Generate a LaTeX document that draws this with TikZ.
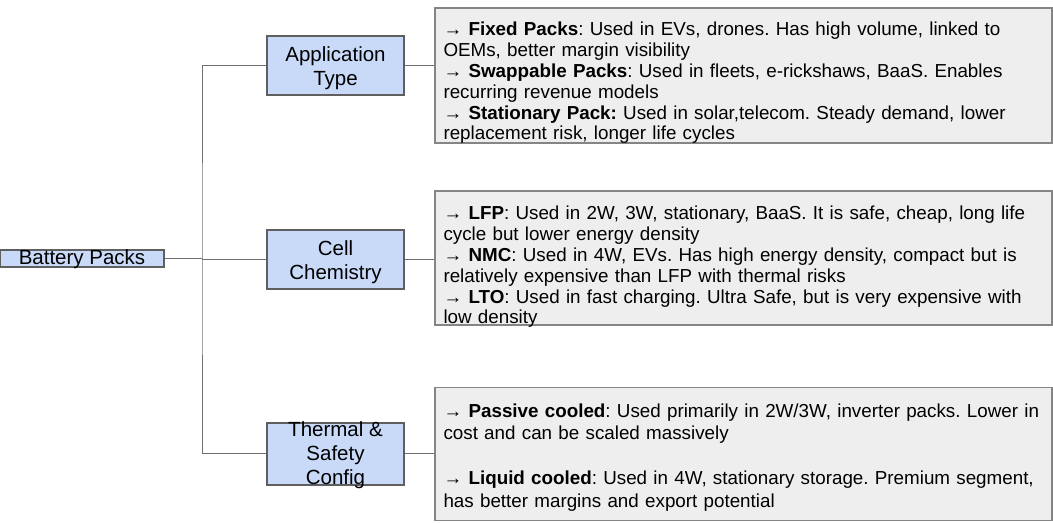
\documentclass[tikz,border=0pt]{standalone}
\usepackage{fontspec}
\setmainfont{Liberation Sans}
\usepackage{tikz}
\usetikzlibrary{positioning}
\usepackage{xcolor}
\definecolor{packblue}{HTML}{C9DAF8}
\definecolor{infogray}{HTML}{EEEEEE}
\definecolor{edgegray}{HTML}{5F5F5F}
\definecolor{boxgray}{HTML}{858585}
\definecolor{linkgray}{HTML}{707070}
\frenchspacing
\hyphenpenalty=10000

\begin{document}
\begin{tikzpicture}[x=1pt, y=1pt]
    % Define styles
    \tikzstyle{category} = [rectangle, draw=edgegray, line width=1.2pt, fill=packblue, minimum width=137pt, minimum height=59pt, inner sep=0pt, align=center, text height=50pt, text depth=9pt, font=\fontsize{20.5}{24}\selectfont]
    \tikzstyle{info} = [rectangle, draw=boxgray, line width=1.2pt, fill=infogray, text width=600pt, inner xsep=8.5pt, inner ysep=0pt, align=left, font=\fontsize{18.8}{20.8}\selectfont]
    \tikzstyle{connector} = [draw=linkgray, line width=1pt]

    \useasboundingbox (0,0) rectangle (1053,524);

    % Place nodes
    \node [category, minimum width=164pt, minimum height=17pt, text height=15pt, text depth=2pt] (battery) at (82,265.5) {Battery Packs};
    \node [category] (apptype) at (335.5,458.5) {Application\\Type};
    \node [category, below of=apptype, node distance=194pt] (cellchem) {Cell\\Chemistry};
    \node [category, below of=cellchem, node distance=194.5pt, minimum height=58pt, text height=62pt, text depth=-4pt] (thermal) {Thermal \&\\Safety\\Config};

    \node [info, right of=apptype, node distance=408pt, yshift=-10pt, text height=28pt, text depth=107pt] (appinfo) {%
        → \textbf{Fixed Packs}: Used in EVs, drones. Has high volume, linked~to\\
        OEMs, better margin visibility\\
        → \textbf{Swappable Packs}: Used in fleets, e-rickshaws, BaaS. Enables\\
        recurring revenue models\\
        → \textbf{Stationary Pack:} Used in solar,telecom. Steady demand, lower\\
        replacement risk, longer life cycles};
    \node [info, right of=cellchem, node distance=408pt, yshift=1.5pt, text height=29pt, text depth=105pt] (cellinfo) {%
        → \textbf{LFP}: Used in 2W, 3W, stationary, BaaS. It is safe, cheap, long~life\\
        cycle but lower energy density\\
        → \textbf{NMC}: Used in 4W, EVs. Has high energy density, compact but~is\\
        relatively expensive than LFP with thermal risks\\
        → \textbf{LTO}: Used in fast charging. Ultra Safe, but is very expensive~with\\
        low density};
    \node [info, right of=thermal, node distance=408pt, text height=30pt, text depth=103pt, font=\fontsize{18.8}{22.5}\selectfont] (thermalinfo) {%
        → \textbf{Passive cooled}: Used primarily in 2W/3W, inverter packs. Lower~in\\
        cost and can be scaled massively\\[22.5pt]
        → \textbf{Liquid cooled}: Used in 4W, stationary storage. Premium~segment,\\
        has better margins and export potential};

    \coordinate (spine) at (202,265.5);

    % Draw edges
    \path [connector] (battery) -- (spine);
    \path [connector] (apptype.west) -| (spine) |- (thermal.west);
    \path [connector] (cellchem.west) -- (cellchem.west -| spine);
    \path [connector] (apptype.east) -- (apptype.east -| appinfo.west);
    \path [connector] (cellchem.east) -- (cellchem.east -| cellinfo.west);
    \path [connector] (thermal.east) -- (thermal.east -| thermalinfo.west);

\end{tikzpicture}
\end{document}
